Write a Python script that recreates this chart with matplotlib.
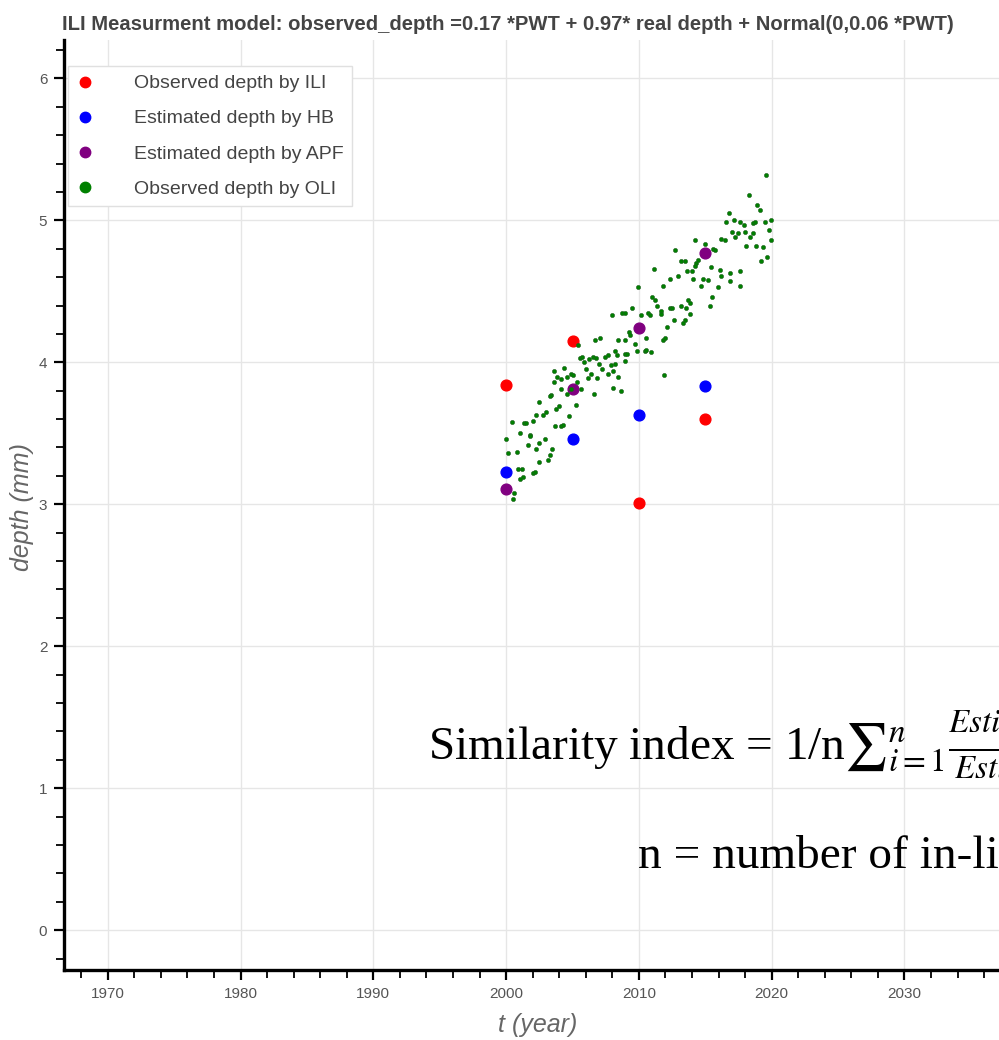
import matplotlib
matplotlib.use("Agg")
import matplotlib.pyplot as plt
from matplotlib.lines import Line2D
from matplotlib.ticker import MultipleLocator
from matplotlib import font_manager

plt.rcParams['mathtext.fontset'] = 'stix'

installed = {f.name for f in font_manager.fontManager.ttflist}
narrow = 'Liberation Sans Narrow' if 'Liberation Sans Narrow' in installed else 'Liberation Sans'

# inspection years and the four depth series (mm)
years = [2000, 2005, 2010, 2015]
depth_ili = [3.84, 4.15, 3.01, 3.60]
depth_hb = [3.23, 3.46, 3.63, 3.83]
depth_apf = [3.11, 3.81, 4.24, 4.77]

oli_t = [2019.60, 2018.29, 2018.92, 2019.10, 2016.76, 2016.58, 2017.16, 2017.61, 2017.91, 2018.59,
         2018.77, 2019.47, 2019.92, 2019.77, 2017.96, 2017.46, 2017.21, 2017.01, 2016.21, 2016.46,
         2018.34, 2018.59, 2019.97, 2018.84, 2019.35, 2018.09, 2014.20, 2015.00, 2015.58, 2015.70,
         2016.08, 2015.45, 2014.27, 2014.45, 2014.20, 2012.69, 2013.19, 2013.49, 2019.67, 2019.22,
         2017.59, 2016.83, 2016.21, 2013.62, 2013.99, 2014.07, 2011.13, 2014.82, 2015.20, 2014.70,
         2015.95, 2017.59, 2016.83, 2009.92, 2012.31, 2012.94, 2015.33, 2015.50, 2011.81, 2011.01,
         2011.23, 2011.38, 2011.63, 2011.68, 2012.31, 2012.51, 2013.19, 2013.69, 2013.82, 2013.52,
         2013.87, 2013.44, 2013.32, 2012.61, 2012.14, 2011.81, 2011.98, 2007.96, 2008.74, 2008.92,
         2009.47, 2010.18, 2010.68, 2010.80, 2009.25, 2009.30, 2009.67, 2009.85, 2010.43, 2010.55,
         2010.93, 2010.50, 2008.42, 2008.97, 2007.04, 2006.66, 2005.40, 2005.53, 2005.73, 2006.53,
         2008.17, 2008.92, 2009.10, 2008.34, 2007.66, 2007.41, 2008.97, 2005.90, 2006.23, 2006.78,
         2006.96, 2007.24, 2007.66, 2008.04, 2008.17, 2007.91, 2006.03, 2006.41, 2006.16, 2006.86,
         2003.64, 2004.35, 2004.90, 2005.03, 2005.33, 2003.57, 2003.84, 2004.15, 2004.55, 2008.42,
         2008.04, 2008.62, 2005.65, 2005.23, 2006.58, 2004.60, 2004.90, 2004.15, 2003.39, 2002.51,
         2003.34, 2003.77, 2003.97, 2004.70, 2004.15, 2004.27, 2003.69, 2002.76, 2003.02, 2002.26,
         2001.38, 2001.51, 2002.01, 2000.43, 2001.83, 2001.76, 2001.08, 2002.89, 2002.51, 2002.26,
         2001.68, 2000.00, 2000.13, 2000.80, 2003.44, 2003.29, 2003.14, 2002.46, 2000.93, 2001.21,
         2001.26, 2001.08, 2002.06, 2002.21, 2000.58, 2000.50, 2011.88]
oli_depth = [5.32, 5.18, 5.11, 5.07, 5.05, 4.99, 5.00, 4.99, 4.97, 4.98,
             4.99, 4.99, 5.00, 4.93, 4.92, 4.91, 4.88, 4.92, 4.87, 4.86,
             4.88, 4.91, 4.86, 4.82, 4.81, 4.82, 4.86, 4.83, 4.80, 4.79,
             4.65, 4.67, 4.70, 4.72, 4.68, 4.79, 4.71, 4.71, 4.74, 4.71,
             4.64, 4.63, 4.61, 4.64, 4.64, 4.59, 4.66, 4.59, 4.58, 4.54,
             4.53, 4.54, 4.57, 4.53, 4.59, 4.61, 4.40, 4.46, 4.54, 4.46,
             4.44, 4.40, 4.36, 4.34, 4.38, 4.38, 4.40, 4.44, 4.42, 4.38,
             4.34, 4.30, 4.28, 4.30, 4.25, 4.16, 4.17, 4.33, 4.35, 4.35,
             4.38, 4.33, 4.35, 4.33, 4.21, 4.19, 4.13, 4.08, 4.08, 4.09,
             4.07, 4.17, 4.16, 4.16, 4.17, 4.16, 4.12, 4.03, 4.04, 4.04,
             4.08, 4.06, 4.06, 4.05, 4.05, 4.04, 4.01, 4.00, 4.02, 4.03,
             3.99, 3.95, 3.92, 3.94, 3.99, 3.98, 3.95, 3.92, 3.89, 3.89,
             3.94, 3.96, 3.92, 3.91, 3.86, 3.86, 3.90, 3.88, 3.90, 3.90,
             3.82, 3.80, 3.81, 3.70, 3.78, 3.78, 3.81, 3.81, 3.77, 3.72,
             3.76, 3.67, 3.69, 3.62, 3.55, 3.56, 3.55, 3.63, 3.65, 3.63,
             3.57, 3.57, 3.59, 3.58, 3.49, 3.48, 3.50, 3.46, 3.43, 3.39,
             3.42, 3.46, 3.36, 3.37, 3.39, 3.35, 3.31, 3.30, 3.25, 3.25,
             3.19, 3.18, 3.22, 3.23, 3.08, 3.04, 3.91]

x_ticks = [1970, 1980, 1990, 2000, 2010, 2020, 2030]
y_ticks = [0, 1, 2, 3, 4, 5, 6]

fig = plt.figure(figsize=(9.99, 10.4), dpi=100)
ax = fig.add_axes([64 / 999, 70 / 1040, 952 / 999, 930 / 1040])

ax.scatter(years, depth_ili, s=60, color='#ff0000', zorder=3)
ax.scatter(years, depth_hb, s=60, color='#0000ff', zorder=4)
ax.scatter(years, depth_apf, s=60, color='#800080', zorder=5)
ax.scatter(oli_t, oli_depth, s=9, color='#008000', edgecolors='#1f5f1f', linewidths=0.4, zorder=6)

ax.set_xlim(1966.7, 2038.4)
ax.set_ylim(-0.28, 6.27)
ax.set_xticks(x_ticks)
ax.set_yticks(y_ticks)
ax.xaxis.set_minor_locator(MultipleLocator(2))
ax.yaxis.set_minor_locator(MultipleLocator(0.2))
ax.grid(True, which='major', color='#e6e6e6', linewidth=1)
ax.set_axisbelow(True)

for side in ['top', 'right']:
    ax.spines[side].set_visible(False)
for side in ['left', 'bottom']:
    ax.spines[side].set_linewidth(2.4)
    ax.spines[side].set_color('black')

ax.tick_params(which='major', direction='out', length=7, width=1.6, color='black',
               labelsize=11, labelcolor='#555555', pad=5)
ax.tick_params(which='minor', direction='out', length=6, width=1.3, color='black')
for lab in ax.get_xticklabels() + ax.get_yticklabels():
    lab.set_fontfamily('Liberation Sans')

handles = [
    Line2D([], [], ls='', marker='o', markersize=7.5, color='#ff0000', label='Observed depth by ILI'),
    Line2D([], [], ls='', marker='o', markersize=7.5, color='#0000ff', label='Estimated depth by HB'),
    Line2D([], [], ls='', marker='o', markersize=7.5, color='#800080', label='Estimated depth by APF'),
    Line2D([], [], ls='', marker='o', markersize=7.5, color='#008000', label='Observed depth by OLI'),
]
leg = ax.legend(handles=handles, loc='upper left', bbox_to_anchor=(4 / 952, 1 - 26 / 930),
                borderaxespad=0, frameon=True, fancybox=False, framealpha=1,
                edgecolor='#e0e0e0', handlelength=0.8, handletextpad=2.15,
                labelspacing=0.9, borderpad=0.45,
                prop={'family': 'Liberation Sans', 'size': 14})
leg.get_frame().set_linewidth(1)
for t in leg.get_texts():
    t.set_color('#444444')

fig.text(62 / 999, 1 - 25 / 1040,
         'ILI Measurment model: observed_depth =0.17 *PWT + 0.97* real depth + Normal(0,0.06 *PWT)',
         fontsize=14.6, fontweight='bold', color='#444444', family=narrow, va='center', ha='left')

fig.text(538 / 999, 1 - 1025 / 1040, 't (year)', fontsize=18, style='italic',
         color='#666666', family='Liberation Sans', ha='center', va='center')
fig.text(22 / 999, 1 - 507 / 1040, 'depth (mm)', fontsize=18, style='italic',
         color='#666666', family='Liberation Sans', ha='center', va='center', rotation=90)

fig.text(428 / 999, 1 - 760 / 1040,
         r'Similarity index = 1/n$∑_{i=1}^{n}\frac{Estimated\ depth_{APF,i}}{Estimated\ depth_{HB,i}}$',
         fontsize=34, family='Liberation Serif', color='black', ha='left', va='baseline')
fig.text(638 / 999, 1 - 868 / 1040, 'n = number of in-line inspections',
         fontsize=34, family='Liberation Serif', color='black', ha='left', va='baseline')

fig.savefig('out.png', dpi=100)
